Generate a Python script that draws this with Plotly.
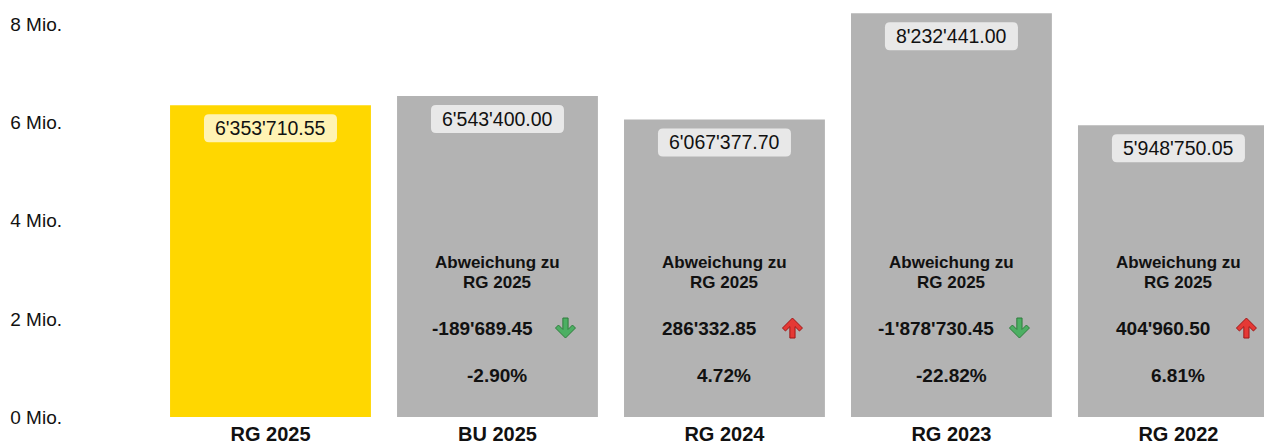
import plotly.graph_objects as go

categories = ["RG 2025", "BU 2025", "RG 2024", "RG 2023", "RG 2022"]
values = [6353710.55, 6543400.00, 6067377.70, 8232441.00, 5948750.05]
tick_vals = [0, 2e6, 4e6, 6e6, 8e6]
tick_text = ["0 Mio.", "2 Mio.", "4 Mio.", "6 Mio.", "8 Mio."]
compare_lines = ["Abweichung zu", "RG 2025"]

BASE_IDX = 0
GOLD = "#FFD700"
GREY = "#B3B3B3"
FONT = "Liberation Sans, Arial, sans-serif"


def fmt(v):
    return f"{v:,.2f}".replace(",", "'")


colors = [GOLD if i == BASE_IDX else GREY for i in range(len(categories))]

fig = go.Figure(
    go.Bar(
        x=categories,
        y=values,
        marker=dict(color=colors, line=dict(width=0)),
        hoverinfo="skip",
    )
)

shapes = []
annotations = []


def rounded_rect(x0, x1, y0, y1, r):
    return (
        f"M {x0+r},{y1} L {x1-r},{y1} Q {x1},{y1} {x1},{y1-r} "
        f"L {x1},{y0+r} Q {x1},{y0} {x1-r},{y0} L {x0+r},{y0} "
        f"Q {x0},{y0} {x0},{y0+r} L {x0},{y1-r} Q {x0},{y1} {x0+r},{y1} Z"
    )


ARROW_PTS = [(0, 10), (10, 0), (7, -3), (2.6, 1.4), (2.6, -10),
             (-2.6, -10), (-2.6, 1.4), (-7, -3), (-10, 0)]


def arrow_path(up, dx):
    s = 1 if up else -1
    return "M " + " L ".join(f"{x+dx},{s*y}" for x, y in ARROW_PTS) + " Z"


Y_LINE1, Y_LINE2, Y_VAL, Y_PCT = 3.14e6, 2.752e6, 1.814e6, 0.856e6

base = values[BASE_IDX]
for i, (cat, v) in enumerate(zip(categories, values)):
    shapes.append(dict(
        type="path", xref="x", yref="y",
        xsizemode="pixel", ysizemode="pixel",
        xanchor=i, yanchor=v,
        path=rounded_rect(-66.5, 66.5, -37, -9, 5),
        fillcolor="rgba(255,255,255,0.7)", line=dict(width=0), layer="above",
    ))
    annotations.append(dict(
        x=i, y=v, xref="x", yref="y", text=fmt(v), showarrow=False,
        yshift=-23, yanchor="middle", xanchor="center",
        font=dict(family=FONT, size=19.5, color="#111"),
    ))
    if i == BASE_IDX:
        continue
    diff = base - v
    pct = diff / v * 100
    for yy, line in zip([Y_LINE1, Y_LINE2], compare_lines):
        annotations.append(dict(
            x=i, y=yy, xref="x", yref="y", text=f"<b>{line}</b>",
            showarrow=False, yanchor="middle", xanchor="center",
            font=dict(family=FONT, size=17, color="#111"),
        ))
    annotations.append(dict(
        x=i, y=Y_VAL, xref="x", yref="y", text=f"<b>{fmt(diff)}</b>",
        showarrow=False, yanchor="middle", xanchor="center", xshift=-15,
        font=dict(family=FONT, size=19, color="#111"),
    ))
    annotations.append(dict(
        x=i, y=Y_PCT, xref="x", yref="y", text=f"<b>{pct:.2f}%</b>",
        showarrow=False, yanchor="middle", xanchor="center",
        font=dict(family=FONT, size=19, color="#111"),
    ))
    up = diff > 0
    shapes.append(dict(
        type="path", xref="x", yref="y",
        xsizemode="pixel", ysizemode="pixel",
        xanchor=i, yanchor=Y_VAL,
        path=arrow_path(up, 68),
        fillcolor="#E53935" if up else "#4CAF63",
        line=dict(color="#A01818" if up else "#2E7D3C", width=1),
        layer="above",
    ))

fig.update_layout(
    width=1264, height=446,
    margin=dict(l=157, r=0, t=0, b=29, autoexpand=False),
    paper_bgcolor="white", plot_bgcolor="white",
    bargap=0.115,
    showlegend=False,
    shapes=shapes,
    annotations=annotations,
    font=dict(family=FONT, color="#111"),
    xaxis=dict(
        type="category", range=[-0.5, 4.377], showgrid=False, zeroline=False,
        showline=False, ticks="", automargin=False, ticklabelstandoff=3,
        tickfont=dict(family=FONT, size=20, color="#111"),
        tickprefix="<b>", ticksuffix="</b>",
    ),
    yaxis=dict(
        range=[0, 8.502e6], tickvals=tick_vals, ticktext=tick_text,
        showgrid=False, zeroline=False, showline=False, ticks="",
        automargin=False, ticklabelstandoff=94,
        tickfont=dict(family=FONT, size=19, color="#111"),
    ),
)

fig.write_html(
    "out.html",
    config={"displayModeBar": False},
    post_script="document.body.style.margin='0';document.body.style.overflow='hidden';",
)
